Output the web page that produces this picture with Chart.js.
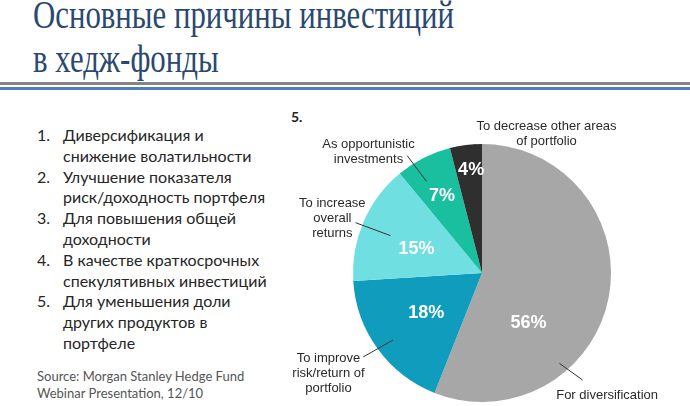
<!DOCTYPE html>
<html>
<head>
<meta charset="utf-8">
<script src="https://cdn.jsdelivr.net/npm/chart.js@4/dist/chart.umd.min.js"></script>
<style>
  html, body { margin: 0; padding: 0; background: #fff; }
  body { width: 690px; height: 406px; position: relative; overflow: hidden; }
  .title { position: absolute; left: 33px; font-family: "Liberation Serif", serif; font-size: 39px; color: #2a4870; white-space: nowrap; line-height: 1; transform-origin: left top; transform: scaleX(0.79); }
  .rule { position: absolute; left: 0; width: 690px; }
  .list { position: absolute; left: 37px; top: 125px; font-family: Lato, "Open Sans", sans-serif; font-size: 16px; color: #262626; line-height: 20.8px; }
  .list div { position: relative; padding-left: 26px; }
  .list span { position: absolute; left: 0; }
  .src { position: absolute; left: 37px; top: 368px; font-family: Lato, sans-serif; font-size: 13px; color: #555; line-height: 16.5px; }
  .frag { position: absolute; left: 291px; top: 108px; font-family: Lato, sans-serif; font-size: 14px; color: #222; font-weight: bold; }
  #wrap { position: absolute; left: 280px; top: 100px; width: 410px; height: 306px; }
</style>
</head>
<body>
<div class="title" style="top:-5px">Основные причины инвестиций</div>
<div class="title" style="top:39px">в хедж-фонды</div>
<div class="rule" style="top:82px;height:2.5px;background:#858585"></div>
<div class="rule" style="top:87px;height:2.5px;background:#4f7fb4"></div>

<div class="list">
  <div><span>1.</span>Диверсификация и<br>снижение волатильности</div>
  <div><span>2.</span>Улучшение показателя<br>риск/доходность портфеля</div>
  <div><span>3.</span>Для повышения общей<br>доходности</div>
  <div><span>4.</span>В качестве краткосрочных<br>спекулятивных инвестиций</div>
  <div><span>5.</span>Для уменьшения доли<br>других продуктов в<br>портфеле</div>
</div>
<div class="src">Source: Morgan Stanley Hedge Fund<br>Webinar Presentation, 12/10</div>
<div class="frag">5.</div>

<div id="wrap"><canvas id="pie" width="410" height="306"></canvas></div>

<script>
// data
var reasons = [
  ['For diversification'],
  ['To improve', 'risk/return of', 'portfolio'],
  ['To increase', 'overall', 'returns'],
  ['As opportunistic', 'investments'],
  ['To decrease other areas', 'of portfolio']
];
var shares = [56, 18, 15, 7, 4];
var sliceColors = ['#a7a7a7', '#0f9cbd', '#6fdfe2', '#19bf9f', '#2f2f2f'];

// where to put things, relative to the pie (units of the radius)
// percent label: [fraction of slice angle, fraction of radius]
var pctPlace = [[0.68, 0.53], [0.51, 0.53], [0.44, 0.54], [0.48, 0.67], [0.58, 0.80]];
// leader line: [inner x, inner y, outer x, outer y], caption centre: [x, y of first line]
var leaders = [
  [0.60, 0.70, 0.78, 0.83],
  [-0.69, 0.52, -0.92, 0.65],
  [-0.71, -0.29, -0.98, -0.39],
  [-0.43, -0.71, -0.58, -0.91],
  [-0.085, -0.93, -0.054, -1.0]
];
var captions = [
  [0.97, 0.95],
  [-1.19, 0.66],
  [-1.16, -0.54],
  [-0.88, -1.0],
  [0.50, -1.14]
];

var labelPlugin = {
  id: 'pielabels',
  afterDatasetsDraw: function(chart) {
    var ctx = chart.ctx;
    var meta = chart.getDatasetMeta(0);
    ctx.save();
    meta.data.forEach(function(arc, i) {
      var p = arc.getProps(['x', 'y', 'startAngle', 'endAngle', 'outerRadius'], true);
      var R = p.outerRadius;
      // percent inside
      var a = p.startAngle + pctPlace[i][0] * (p.endAngle - p.startAngle);
      var r = pctPlace[i][1] * R;
      ctx.fillStyle = '#ffffff';
      ctx.font = 'bold 18px "Liberation Sans", Arial, sans-serif';
      ctx.textAlign = 'center';
      ctx.textBaseline = 'middle';
      ctx.fillText(shares[i] + '%', p.x + Math.cos(a) * r, p.y + Math.sin(a) * r);
      // leader line
      var L = leaders[i];
      ctx.strokeStyle = '#333333';
      ctx.lineWidth = 1;
      ctx.beginPath();
      ctx.moveTo(p.x + L[0] * R, p.y + L[1] * R);
      ctx.lineTo(p.x + L[2] * R, p.y + L[3] * R);
      ctx.stroke();
      // caption
      ctx.fillStyle = '#2a2a2a';
      ctx.font = '13px "Liberation Sans", Arial, sans-serif';
      var cx = p.x + captions[i][0] * R;
      var cy = p.y + captions[i][1] * R;
      reasons[i].forEach(function(line, k) {
        ctx.fillText(line, cx, cy + k * 15);
      });
    });
    ctx.restore();
  }
};

var pie = new Chart(document.getElementById('pie').getContext('2d'), {
  type: 'pie',
  data: {
    labels: reasons.map(function(r) { return r.join(' '); }),
    datasets: [{
      data: shares,
      backgroundColor: sliceColors,
      borderWidth: 0
    }]
  },
  options: {
    responsive: false,
    animation: false,
    devicePixelRatio: 1,
    layout: { padding: { left: 73, right: 79, top: 44, bottom: 4 } },
    plugins: {
      legend: { display: false },
      tooltip: { enabled: false }
    }
  },
  plugins: [labelPlugin]
});
</script>
</body>
</html>
